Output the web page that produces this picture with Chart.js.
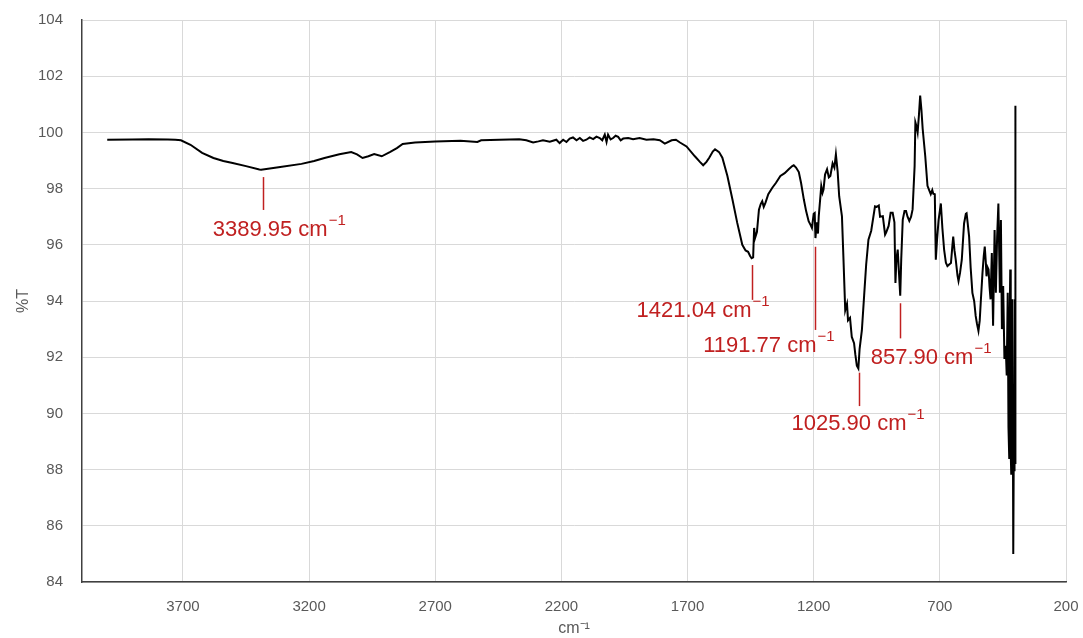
<!DOCTYPE html>
<html>
<head>
<meta charset="utf-8">
<script src="https://cdn.jsdelivr.net/npm/chart.js@4.4.1/dist/chart.umd.min.js"></script>
<style>
  html, body { margin: 0; padding: 0; background: #fff; }
  #wrap { width: 1083px; height: 638px; }
</style>
</head>
<body>
<div id="wrap"><canvas id="irChart" width="1083" height="638"></canvas></div>
<script>
// IR spectrum (wavenumber in cm-1, transmittance in %T)
const wavenumbers = [
  4000, 3900, 3836, 3760, 3730, 3708, 3670, 3624, 3579, 3540, 3503, 3450, 3397, 3390, 3321, 3230, 3180, 3139, 3080, 3033,
  3010, 2988, 2965, 2942, 2912, 2880, 2852, 2829, 2780, 2700, 2600, 2533, 2518, 2445, 2367, 2339, 2312, 2291, 2273, 2246,
  2220, 2207, 2193, 2180, 2167, 2154, 2140, 2127, 2114, 2101, 2088, 2074, 2061, 2048, 2038, 2028, 2021, 2015, 2005, 1995,
  1985, 1975, 1965, 1955, 1935, 1916, 1890, 1863, 1835, 1810, 1790, 1763, 1746, 1730, 1704, 1671, 1651, 1638, 1625, 1614,
  1600, 1591, 1575, 1562, 1542, 1522, 1503, 1483, 1470, 1460, 1452, 1446, 1440, 1436, 1432, 1425, 1417, 1410, 1404, 1398,
  1391, 1380, 1364, 1350, 1332, 1315, 1299, 1285, 1279, 1270, 1259, 1250, 1239, 1230, 1220, 1212, 1207, 1200, 1196, 1193,
  1188, 1183, 1180, 1170, 1165, 1161, 1155, 1147, 1140, 1134, 1125, 1118, 1112, 1105, 1099, 1088, 1082, 1075, 1068, 1064,
  1056, 1049, 1040, 1035, 1029, 1023, 1018, 1009, 1000, 992, 983, 972, 957, 950, 942, 937, 926, 917, 913, 903,
  895, 887, 880, 876, 872, 867, 862, 857, 853, 847, 840, 834, 828, 821, 814, 808, 800, 797, 792, 788,
  783, 778, 773, 768, 758, 749, 742, 736, 730, 726, 720, 716, 711, 705, 696, 690, 683, 676, 670, 663,
  656, 650, 647, 642, 637, 630, 626, 620, 613, 604, 597, 594, 590, 584, 578, 571, 564, 558, 553, 547,
  542, 538, 531, 526, 522, 518, 515, 511, 507, 503, 499, 494, 489, 483, 478, 473, 468, 462, 458, 454,
  449, 444, 439, 435, 431, 428, 425, 423, 421, 419, 417, 414, 412, 409, 406, 404, 402, 401, 400
];
const transmittance = [
  99.74, 99.75, 99.76, 99.75, 99.74, 99.72, 99.56, 99.27, 99.09, 98.98, 98.91, 98.80, 98.68, 98.67, 98.76, 98.88, 98.98, 99.09, 99.22, 99.30,
  99.22, 99.09, 99.15, 99.23, 99.15, 99.30, 99.44, 99.59, 99.64, 99.68, 99.70, 99.66, 99.72, 99.74, 99.76, 99.72, 99.64, 99.68, 99.72, 99.67,
  99.74, 99.62, 99.74, 99.66, 99.78, 99.82, 99.72, 99.80, 99.70, 99.74, 99.82, 99.76, 99.85, 99.80, 99.72, 99.92, 99.66, 99.92, 99.75, 99.80,
  99.88, 99.84, 99.72, 99.78, 99.80, 99.76, 99.80, 99.74, 99.76, 99.72, 99.60, 99.72, 99.74, 99.64, 99.50, 99.15, 98.95, 98.83, 98.95, 99.10,
  99.32, 99.40, 99.30, 99.10, 98.45, 97.61, 96.78, 96.00, 95.80, 95.75, 95.60, 95.52, 95.55, 96.60, 96.25, 96.45, 97.25, 97.45, 97.55, 97.35,
  97.50, 97.80, 98.03, 98.20, 98.45, 98.55, 98.69, 98.80, 98.83, 98.75, 98.59, 98.20, 97.61, 97.20, 96.84, 96.70, 96.60, 97.10, 97.13, 96.24,
  96.80, 96.40, 97.01, 98.09, 97.85, 97.97, 98.50, 98.69, 98.40, 98.45, 98.90, 98.75, 99.22, 98.60, 97.73, 97.01, 95.50, 93.67, 93.90, 93.31,
  93.40, 92.72, 92.50, 92.10, 91.70, 91.60, 92.30, 92.96, 94.20, 95.30, 96.18, 96.50, 97.37, 97.35, 97.40, 97.00, 97.02, 96.36, 96.43, 96.67,
  97.14, 97.14, 96.80, 94.64, 95.50, 95.83, 95.00, 94.19, 95.50, 96.90, 97.20, 97.20, 97.00, 96.85, 97.00, 97.26, 98.80, 100.36, 100.20, 100.00,
  100.60, 101.31, 100.80, 100.12, 99.17, 98.10, 97.94, 97.80, 97.95, 97.82, 97.80, 95.47, 96.20, 96.88, 97.47, 96.60, 95.82, 95.36, 95.24, 95.30,
  95.35, 96.00, 96.29, 95.80, 95.47, 94.90, 94.71, 95.00, 95.47, 96.76, 97.10, 97.12, 96.80, 96.29, 95.20, 94.29, 94.00, 93.47, 93.20, 92.94,
  93.30, 93.94, 95.00, 95.60, 95.94, 95.40, 94.88, 95.20, 95.12, 94.50, 94.06, 95.71, 93.12, 96.53, 94.29, 96.29, 97.47, 94.29, 96.88, 93.00,
  94.53, 91.94, 92.41, 91.35, 94.29, 89.50, 88.41, 93.50, 95.12, 88.60, 87.82, 92.80, 94.06, 85.00, 90.50, 87.94, 94.06, 100.95, 88.20
];

// x ticks (cm-1) and y ticks (%T)
const xTickValues = [3700, 3200, 2700, 2200, 1700, 1200, 700, 200];
const yTickValues = [84, 86, 88, 90, 92, 94, 96, 98, 100, 102, 104];

// peak markers: line position (cm-1), line top/bottom (%T), label left edge (cm-1), label middle (%T)
const peakTexts = ['3389.95', '1421.04', '1191.77', '1025.90', '857.90'];
const peakLineX = [3383, 1444, 1195, 1021, 856];
const peakLineTop = [98.41, 95.28, 95.93, 91.45, 93.92];
const peakLineBottom = [97.24, 94.04, 92.97, 90.26, 92.67];
const peakLabelX = [3582, 1902, 1638, 1288, 974];
const peakLabelY = [96.53, 93.65, 92.41, 89.62, 91.96];

const RED = 'rgb(192, 32, 32)';
const GREY_TEXT = '#595959';
const FONT = '"Liberation Sans", Arial, sans-serif';

const peakPlugin = {
  id: 'peakMarkers',
  afterDatasetsDraw(chart) {
    const { ctx, scales: { x, y } } = chart;
    ctx.save();
    ctx.strokeStyle = RED;
    ctx.fillStyle = RED;
    ctx.lineWidth = 1.5;
    peakTexts.forEach((txt, i) => {
      const px = Math.round(x.getPixelForValue(peakLineX[i])) + 0.5;
      ctx.beginPath();
      ctx.moveTo(px, y.getPixelForValue(peakLineTop[i]));
      ctx.lineTo(px, y.getPixelForValue(peakLineBottom[i]));
      ctx.stroke();

      const lx = x.getPixelForValue(peakLabelX[i]);
      const ly = y.getPixelForValue(peakLabelY[i]);
      const main = txt + ' cm';
      ctx.font = '22px ' + FONT;
      ctx.textAlign = 'left';
      ctx.textBaseline = 'middle';
      ctx.fillText(main, lx, ly);
      const w = ctx.measureText(main).width;
      ctx.font = '15px ' + FONT;
      ctx.fillText('\u22121', lx + w + 1, ly - 9);
    });
    ctx.restore();
  }
};

const points = wavenumbers.map((w, i) => ({ x: w, y: transmittance[i] }));

new Chart(document.getElementById('irChart'), {
  type: 'line',
  data: {
    datasets: [{
      data: points,
      borderColor: '#000',
      borderWidth: 2,
      pointRadius: 0,
      tension: 0,
      fill: false
    }]
  },
  options: {
    responsive: false,
    animation: false,
    parsing: false,
    layout: { padding: { top: 20, right: 17, bottom: 0, left: 0 } },
    plugins: {
      legend: { display: false },
      tooltip: { enabled: false }
    },
    scales: {
      x: {
        type: 'linear',
        reverse: true,
        min: 200,
        max: 4100,
        afterBuildTicks: (scale) => { scale.ticks = xTickValues.map(v => ({ value: v })); },
        afterFit: (scale) => {
          scale.height = 56;
          scale.paddingLeft = 0;
          scale.paddingRight = 0;
        },
        grid: { color: '#d9d9d9', lineWidth: 1, drawTicks: false },
        border: { color: '#404040', width: 1.5 },
        ticks: {
          color: GREY_TEXT,
          font: { family: FONT, size: 15 },
          padding: 16,
          maxRotation: 0,
          callback: (v) => String(v)
        },
        title: {
          display: true,
          text: 'cm\u207B\u00B9',
          color: GREY_TEXT,
          font: { family: FONT, size: 16 },
          padding: { top: 0, bottom: 0 }
        }
      },
      y: {
        min: 84,
        max: 104,
        afterBuildTicks: (scale) => { scale.ticks = yTickValues.map(v => ({ value: v })); },
        afterFit: (scale) => {
          scale.width = 82;
          scale.paddingTop = 0;
          scale.paddingBottom = 0;
        },
        grid: { color: '#d9d9d9', lineWidth: 1, drawTicks: false },
        border: { color: '#404040', width: 1.5 },
        ticks: {
          color: GREY_TEXT,
          font: { family: FONT, size: 15 },
          padding: 19,
          callback: (v) => String(v)
        },
        title: {
          display: true,
          text: '%T',
          color: GREY_TEXT,
          font: { family: FONT, size: 16 },
          padding: { top: 14, bottom: 0 }
        }
      }
    }
  },
  plugins: [peakPlugin]
});
</script>
</body>
</html>
